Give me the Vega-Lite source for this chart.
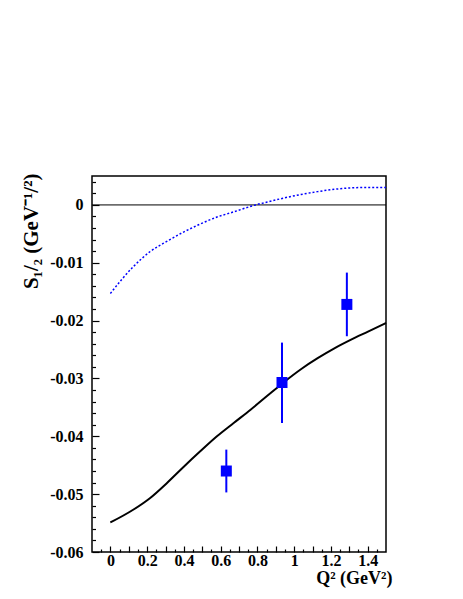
{
  "$schema": "https://vega.github.io/schema/vega-lite/v6.json",
  "width": 294,
  "height": 376,
  "autosize": {"type": "none"},
  "padding": {"left": 92, "top": 176, "right": 77, "bottom": 47},
  "background": "white",
  "config": {
    "view": {"stroke": "#000", "strokeWidth": 1.5},
    "axis": {
      "labelFont": "Liberation Serif", "labelFontWeight": "bold", "labelFontSize": 16, "labelColor": "#000",
      "titleFont": "Liberation Serif", "titleFontWeight": "bold", "titleFontSize": 18, "titleColor": "#000",
      "grid": false, "domain": false, "tickColor": "#000", "tickWidth": 1.2, "labelFlush": false
    }
  },
  "datasets": {
    "dotted": [
      {"q2": 0.0, "s": -0.0153},
      {"q2": 0.124, "s": -0.0107},
      {"q2": 0.215, "s": -0.0081},
      {"q2": 0.307, "s": -0.0063},
      {"q2": 0.398, "s": -0.0047},
      {"q2": 0.489, "s": -0.0033},
      {"q2": 0.58, "s": -0.0021},
      {"q2": 0.671, "s": -0.0012},
      {"q2": 0.79, "s": 0.0},
      {"q2": 0.854, "s": 0.0005},
      {"q2": 0.945, "s": 0.0012},
      {"q2": 1.037, "s": 0.0018},
      {"q2": 1.128, "s": 0.0023},
      {"q2": 1.219, "s": 0.0027},
      {"q2": 1.31, "s": 0.00295},
      {"q2": 1.402, "s": 0.00302},
      {"q2": 1.5, "s": 0.003}
    ],
    "solid": [
      {"q2": 0.0, "s": -0.0549},
      {"q2": 0.124, "s": -0.0527},
      {"q2": 0.215, "s": -0.0507},
      {"q2": 0.307, "s": -0.0481},
      {"q2": 0.398, "s": -0.0453},
      {"q2": 0.489, "s": -0.0426},
      {"q2": 0.58, "s": -0.0400},
      {"q2": 0.671, "s": -0.0377},
      {"q2": 0.763, "s": -0.0354},
      {"q2": 0.854, "s": -0.0330},
      {"q2": 0.934, "s": -0.0309},
      {"q2": 1.037, "s": -0.0284},
      {"q2": 1.128, "s": -0.0265},
      {"q2": 1.219, "s": -0.0248},
      {"q2": 1.31, "s": -0.0233},
      {"q2": 1.402, "s": -0.0219},
      {"q2": 1.5, "s": -0.0204}
    ],
    "points": [
      {"q2": 0.631, "s": -0.046, "lo": -0.0497, "hi": -0.0423},
      {"q2": 0.934, "s": -0.0307, "lo": -0.0377, "hi": -0.0238},
      {"q2": 1.287, "s": -0.0172, "lo": -0.0227, "hi": -0.0117}
    ],
    "zero": [{"s": 0}]
  },
  "layer": [
    {
      "data": {"name": "zero"},
      "mark": {"type": "rule", "color": "#000", "strokeWidth": 1},
      "encoding": {
        "y": {"field": "s", "type": "quantitative", "scale": {"domain": [-0.06, 0.005], "nice": false, "zero": false}, "axis": null}
      }
    },
    {
      "data": {"name": "dotted"},
      "mark": {"type": "line", "color": "#0000ff", "strokeWidth": 1.5, "strokeDash": [2, 2], "interpolate": "monotone"},
      "encoding": {
        "x": {"field": "q2", "type": "quantitative", "scale": {"domain": [-0.1, 1.5], "nice": false, "zero": false},
          "axis": {"orient": "bottom", "values": [0, 0.1, 0.2, 0.3, 0.4, 0.5, 0.6, 0.7, 0.8, 0.9, 1, 1.1, 1.2, 1.3, 1.4],
            "tickSize": -6, "labelPadding": 6,
            "labelExpr": "round(datum.value*10) % 2 == 0 ? format(datum.value, '~g') : ''",
            "title": "Q² (GeV²)", "titleAnchor": "end", "titleAlign": "right", "titleX": 300, "titleY": 31, "titleBaseline": "alphabetic"}},
        "y": {"field": "s", "type": "quantitative", "scale": {"domain": [-0.06, 0.005], "nice": false, "zero": false},
          "axis": {"orient": "left", "values": [-0.06, -0.05, -0.04, -0.03, -0.02, -0.01, 0],
            "tickSize": -7, "labelPadding": 16,
            "labelExpr": "datum.value == 0 ? '0' : '-' + format(abs(datum.value), '~g')",
            "title": "S₁/₂ (GeV⁻¹/²)", "titleFontSize": 21, "titleAngle": -90, "titleAlign": "right", "titleX": -55, "titleY": -3, "titleBaseline": "alphabetic"}}
      }
    },
    {
      "data": {"name": "solid"},
      "mark": {"type": "line", "color": "#000", "strokeWidth": 2, "interpolate": "monotone"},
      "encoding": {
        "x": {"field": "q2", "type": "quantitative", "scale": {"domain": [-0.1, 1.5], "nice": false, "zero": false},
          "axis": {"orient": "bottom", "values": [-0.05, 0.05, 0.15, 0.25, 0.35, 0.45, 0.55, 0.65, 0.75, 0.85, 0.95, 1.05, 1.15, 1.25, 1.35, 1.45],
            "tickSize": -3, "labels": false, "title": null}},
        "y": {"field": "s", "type": "quantitative", "scale": {"domain": [-0.06, 0.005], "nice": false, "zero": false},
          "axis": {"orient": "left", "values": [-0.058, -0.056, -0.054, -0.052, -0.048, -0.046, -0.044, -0.042, -0.038, -0.036, -0.034, -0.032, -0.028, -0.026, -0.024, -0.022, -0.018, -0.016, -0.014, -0.012, -0.008, -0.006, -0.004, -0.002, 0.002, 0.004],
            "tickSize": -3.5, "labels": false, "title": null}}
      }
    },
    {
      "data": {"name": "points"},
      "mark": {"type": "rule", "color": "#0000ff", "strokeWidth": 2},
      "encoding": {
        "x": {"field": "q2", "type": "quantitative", "scale": {"domain": [-0.1, 1.5], "nice": false, "zero": false}, "axis": null},
        "y": {"field": "lo", "type": "quantitative", "scale": {"domain": [-0.06, 0.005], "nice": false, "zero": false}, "axis": null},
        "y2": {"field": "hi"}
      }
    },
    {
      "data": {"name": "points"},
      "mark": {"type": "point", "shape": "square", "filled": true, "size": 121, "color": "#0000ff", "opacity": 1},
      "encoding": {
        "x": {"field": "q2", "type": "quantitative", "scale": {"domain": [-0.1, 1.5], "nice": false, "zero": false}, "axis": null},
        "y": {"field": "s", "type": "quantitative", "scale": {"domain": [-0.06, 0.005], "nice": false, "zero": false}, "axis": null}
      }
    }
  ],
  "resolve": {"axis": {"x": "independent", "y": "independent"}}
}
